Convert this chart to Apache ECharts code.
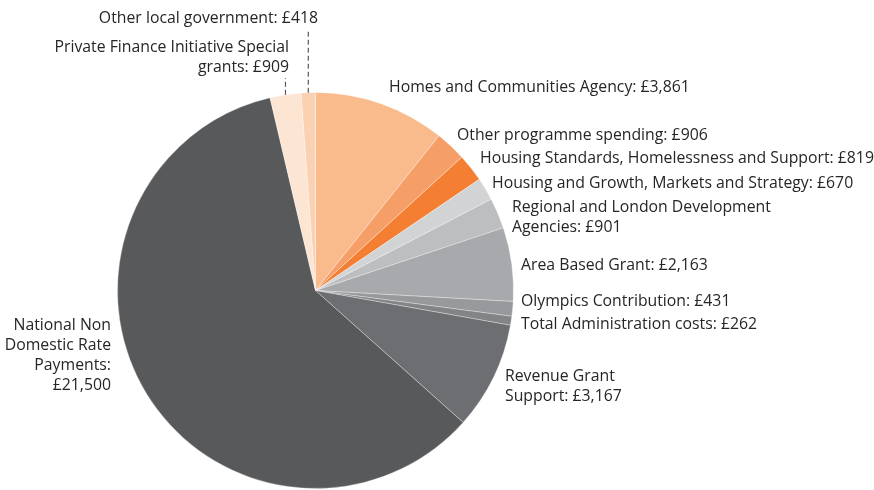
<!DOCTYPE html>
<html>
<head>
<meta charset="utf-8">
<script src="https://cdn.jsdelivr.net/npm/echarts@6/dist/echarts.min.js"></script>
<style>
  html, body { margin: 0; padding: 0; background: #ffffff; }
  #chart { width: 874px; height: 490px; }
</style>
</head>
<body>
<div id="chart"></div>
<script>
// Spending categories, clockwise from 12 o'clock (£ million)
const categories = [
  'Homes and Communities Agency',
  'Other programme spending',
  'Housing Standards, Homelessness and Support',
  'Housing and Growth, Markets and Strategy',
  'Regional and London Development\nAgencies',
  'Area Based Grant',
  'Olympics Contribution',
  'Total Administration costs',
  'Revenue Grant\nSupport',
  'National Non\nDomestic Rate\nPayments',
  'Private Finance Initiative Special\ngrants',
  'Other local government'
];
const values = [3861, 906, 819, 670, 901, 2163, 431, 262, 3167, 21500, 909, 418];

// Slice colours
const sliceColors = [
  '#f9bb8c', '#f69e68', '#f47f32', '#d2d3d4', '#bdbec0', '#a8a9ac',
  '#98999c', '#838487', '#6d6e71', '#58595b', '#fde5d4', '#fbd1b3'
];

// Label anchors: [x, y(centre of text block), align]
const labelAnchors = [
  [389, 87, 'left'],
  [457, 135, 'left'],
  [480, 158, 'left'],
  [492, 183, 'left'],
  [512, 217.5, 'left'],
  [521, 265, 'left'],
  [521, 301, 'left'],
  [521, 324, 'left'],
  [505, 386.5, 'left'],
  [111, 355.5, 'right'],
  [289, 57, 'right'],
  [318, 18, 'right']
];
// Slices whose label is joined to the pie by a dashed vertical leader
const dashedLeader = [10, 11];

const PIE_CENTER = [315.5, 290.5];
const PIE_RADIUS = 198;
const LINE_H = 20;

const fmt = v => '£' + v.toLocaleString('en-GB');
const labelText = (name, value, idx) => name + (idx === 9 ? ':\n' : ': ') + fmt(value);

// Leader lines: from the outer-edge midpoint of the slice straight up to its label
const total = values.reduce((s, v) => s + v, 0);
const leaders = dashedLeader.map(i => {
  const before = values.slice(0, i).reduce((s, v) => s + v, 0);
  const theta = 2 * Math.PI * (before + values[i] / 2) / total; // clockwise from 12 o'clock
  const x = PIE_CENTER[0] + PIE_RADIUS * Math.sin(theta);
  const y = PIE_CENTER[1] - PIE_RADIUS * Math.cos(theta);
  const nLines = labelText(categories[i], values[i], i).split('\n').length;
  const top = labelAnchors[i][1] + nLines * LINE_H / 2 + 1;
  return {
    type: 'line',
    silent: true,
    z: 10,
    shape: { x1: x, y1: y, x2: x, y2: top },
    style: { stroke: '#5a5a5a', lineWidth: 1.2, lineDash: [5, 3] }
  };
});

const chart = echarts.init(document.getElementById('chart'), null, { renderer: 'canvas' });

chart.setOption({
  animation: false,
  graphic: leaders,
  series: [{
    type: 'pie',
    center: PIE_CENTER,
    radius: PIE_RADIUS,
    startAngle: 90,
    clockwise: true,
    avoidLabelOverlap: false,
    itemStyle: { borderColor: 'rgba(255,255,255,0.55)', borderWidth: 0.6 },
    label: {
      show: true,
      position: 'outside',
      fontFamily: 'Open Sans',
      fontSize: 15.8,
      lineHeight: LINE_H,
      color: '#262626',
      formatter: p => labelText(p.name, p.value, p.dataIndex)
    },
    labelLine: { show: false },
    labelLayout: p => {
      const a = labelAnchors[p.dataIndex];
      return { x: a[0], y: a[1], align: a[2], verticalAlign: 'middle' };
    },
    data: categories.map((name, i) => ({
      name: name,
      value: values[i],
      itemStyle: { color: sliceColors[i] }
    }))
  }]
});
</script>
</body>
</html>
